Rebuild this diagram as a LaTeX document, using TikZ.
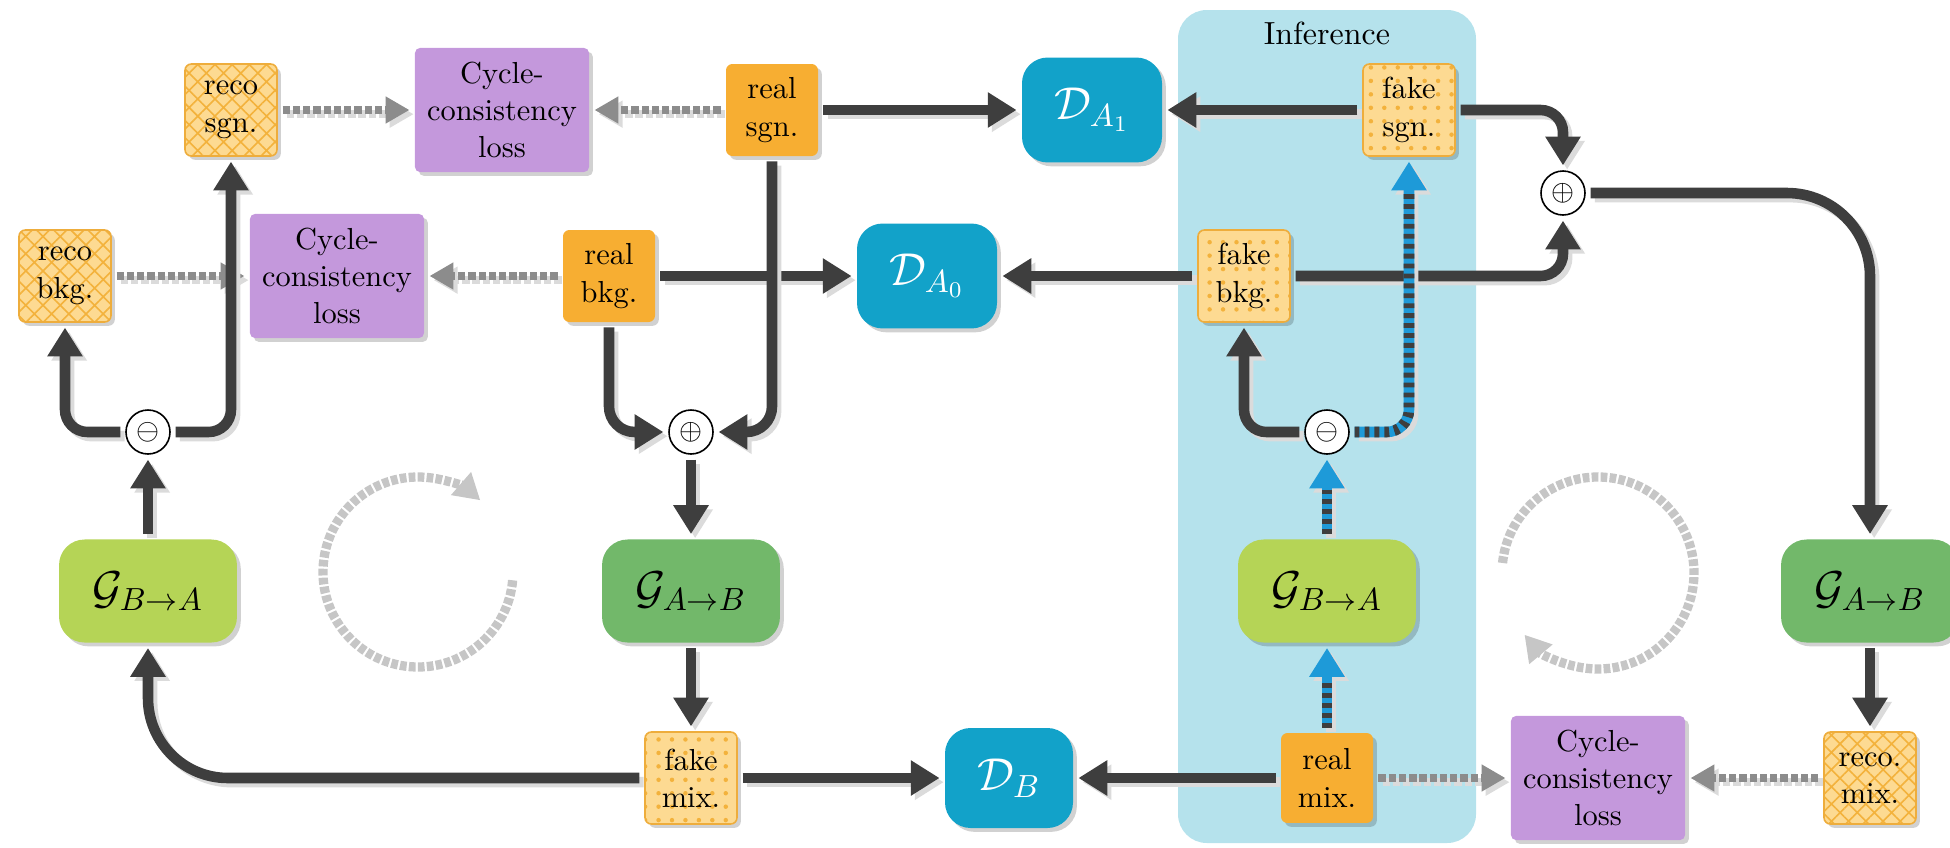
\documentclass[tikz,border=0pt]{standalone}
\usetikzlibrary{arrows.meta,shadows,patterns.meta}
\definecolor{arr}{HTML}{3E3E3E}
\definecolor{realor}{HTML}{F7AE32}
\definecolor{lightor}{HTML}{FDDA92}
\definecolor{pator}{HTML}{F3B23C}
\definecolor{borderor}{HTML}{EEAD3C}
\definecolor{lossp}{HTML}{C498DC}
\definecolor{discol}{HTML}{12A2C9}
\definecolor{gba}{HTML}{B5D456}
\definecolor{gab}{HTML}{72B86A}
\definecolor{infer}{HTML}{B5E2EC}
\definecolor{dgray}{HTML}{8C8C8C}
\definecolor{cgray}{HTML}{C6C6C6}
\definecolor{bluearr}{HTML}{1E9AD8}
\newcommand{\conn}[2]{\draw[#1,shadowline] #2; \draw[#1] #2;}
\newcommand{\bconn}[2][]{\draw[bl,#1,shadowline] #2; \draw[bl,#1] #2; \draw[bld,#1] #2;}
\begin{document}
\begin{tikzpicture}[x=0.3125pt, y=-0.3125pt, font=\fontsize{9.5}{11.7}\selectfont,
  shd/.style={drop shadow={shadow xshift=1.2pt, shadow yshift=-1.2pt, fill=black, opacity=0.18}},
  smallbox/.style={shd, rounded corners=2pt, minimum width=28.75pt, minimum height=28.75pt, inner sep=0pt, align=center},
  realbox/.style={smallbox, fill=realor},
  fakebox/.style={smallbox, draw=borderor, line width=0.5pt, preaction={fill=lightor}, pattern={Dots[distance=4.2pt, radius=0.7pt]}, pattern color=pator},
  recobox/.style={smallbox, draw=borderor, line width=0.5pt, preaction={fill=lightor}, pattern={Hatch[angle=45, distance=3.8pt, line width=0.5pt]}, pattern color=pator},
  lossbox/.style={shd, fill=lossp, rounded corners=1.6pt, minimum width=54.4pt, minimum height=38.8pt, inner sep=0pt, align=center},
  dbox/.style={shd, fill=discol, rounded corners=8pt, minimum width=43.75pt, minimum height=32.8pt, inner sep=0pt, text=white, font=\fontsize{14}{16}\selectfont},
  gbox/.style={shd, rounded corners=8pt, minimum width=55.6pt, minimum height=32.2pt, inner sep=0pt, font=\fontsize{14}{16}\selectfont},
  opnode/.style={circle, draw=black, line width=0.5pt, fill=white, minimum size=13.75pt, inner sep=0pt, font=\fontsize{9}{10}\selectfont},
  shadowline/.style={draw=black!14, transform canvas={shift={(1.3pt,-1.3pt)}}},
  dk/.style={draw=arr, line width=3.3pt, -{Triangle[length=9pt, width=10.5pt]}, shorten >=1.5pt, shorten <=1.5pt},
  gd/.style={draw=dgray, line width=2.3pt, dash pattern=on 2.3pt off 0.9pt, -{Triangle[length=7.5pt, width=8pt]}, shorten >=1.5pt, shorten <=1.5pt},
  bl/.style={draw=bluearr, line width=3.3pt, -{Triangle[length=9pt, width=10.5pt]}, shorten >=1.5pt, shorten <=1.5pt},
  bld/.style={draw=arr, line width=3.3pt, dash pattern=on 1.5pt off 1.6pt, shorten >=11pt, shorten <=1.5pt},
  cyc/.style={draw=cgray, line width=2.9pt, dash pattern=on 2.1pt off 0.7pt, -{Triangle[length=8pt, width=9pt]}}
]
\useasboundingbox (0,0) rectangle (1950,847);
% inference panel
\fill[infer, rounded corners=9pt] (1178,10) rectangle (1476,843);
\node[font=\fontsize{10}{12}\selectfont] (inftitle) at (1327,33) {Inference};

% row 1
\node[recobox] (recoS) at (231,110) {reco\\sgn.};
\node[lossbox] (loss1) at (502,110) {Cycle-\\consistency\\loss};
\node[realbox] (realS) at (772,110) {real\\sgn.};
\node[dbox] (DA1) at (1092,110) {$\mathcal{D}_{A_1}$};
\node[fakebox] (fakeS) at (1409,110) {fake\\sgn.};
% row 2
\node[recobox] (recoB) at (65,276) {reco\\bkg.};
\node[lossbox] (loss2) at (337,276) {Cycle-\\consistency\\loss};
\node[realbox] (realB) at (609,276) {real\\bkg.};
\node[dbox] (DA0) at (927,276) {$\mathcal{D}_{A_0}$};
\node[fakebox] (fakeB) at (1244,276) {fake\\bkg.};
\node[opnode] (plus2) at (1563,193) {$\oplus$};
% operators
\node[opnode] (minus1) at (148,432) {$\ominus$};
\node[opnode] (plus1) at (691,432) {$\oplus$};
\node[opnode] (minus2) at (1327,432) {$\ominus$};
% generators
\node[gbox, fill=gba] (GBA1) at (148,591) {$\mathcal{G}_{B\to A}$};
\node[gbox, fill=gab] (GAB1) at (691,591) {$\mathcal{G}_{A\to B}$};
\node[gbox, fill=gba] (GBA2) at (1327,591) {$\mathcal{G}_{B\to A}$};
\node[gbox, fill=gab] (GAB2) at (1870,591) {$\mathcal{G}_{A\to B}$};
% bottom row
\node[fakebox] (fakeM) at (691,778) {fake\\mix.};
\node[dbox, minimum width=40pt, minimum height=31.25pt] (DB) at (1009,778) {$\mathcal{D}_{B}$};
\node[realbox, minimum height=28.1pt] (realM) at (1327,778) {real\\mix.};
\node[lossbox] (loss3) at (1598,778) {Cycle-\\consistency\\loss};
\node[recobox] (recoM) at (1870,778) {reco.\\mix.};

% cycle arrows
\draw[cyc] (418,572) ++(5:95) arc[start angle=5, end angle=311, radius=95];
\draw[cyc] (1598,573) ++(-174:96) arc[start angle=-174, end angle=140, radius=96];

% connectors
\conn{gd}{(recoS.east) -- (loss1.west)}
\conn{gd}{(realS.west) -- (loss1.east)}
\conn{gd}{(recoB.east) -- (loss2.west)}
\conn{gd}{(realB.west) -- (loss2.east)}
\conn{gd}{(recoM.west) -- (loss3.east)}
\conn{gd}{(realM.east) -- (loss3.west)}

\conn{dk}{(realB.east) -- (DA0.west)}
\conn{dk}{(fakeB.west) -- (DA0.east)}
\conn{dk,rounded corners=8pt}{(realB.south) |- (plus1.west)}
\conn{dk,rounded corners=8pt}{(realS.south) |- (plus1.east)}
\conn{dk}{(realS.east) -- (DA1.west)}
\conn{dk}{(fakeS.west) -- (DA1.east)}
\conn{dk,rounded corners=7pt}{(fakeS.east) -| (plus2.north)}
\conn{dk,rounded corners=7pt}{(fakeB.east) -| (plus2.south)}
\conn{dk,rounded corners=26pt}{(plus2.east) -| (GAB2.north)}
\conn{dk}{(GAB2.south) -- (recoM.north)}
\conn{dk}{(realM.west) -- (DB.east)}
\conn{dk}{(fakeM.east) -- (DB.west)}
\conn{dk,rounded corners=25pt}{(fakeM.west) -| (GBA1.south)}
\conn{dk}{(GBA1.north) -- (minus1.south)}
\conn{dk,rounded corners=7pt}{(minus1.west) -| (recoB.south)}
\conn{dk,rounded corners=7pt}{(minus1.east) -| (recoS.south)}
\conn{dk}{(plus1.south) -- (GAB1.north)}
\conn{dk}{(GAB1.south) -- (fakeM.north)}
\conn{dk,rounded corners=7pt}{(minus2.west) -| (fakeB.south)}

\bconn{(realM.north) -- (GBA2.south)}
\bconn{(GBA2.north) -- (minus2.south)}
\bconn[rounded corners=7pt]{(minus2.east) -| (fakeS.south)}
\end{tikzpicture}
\end{document}
